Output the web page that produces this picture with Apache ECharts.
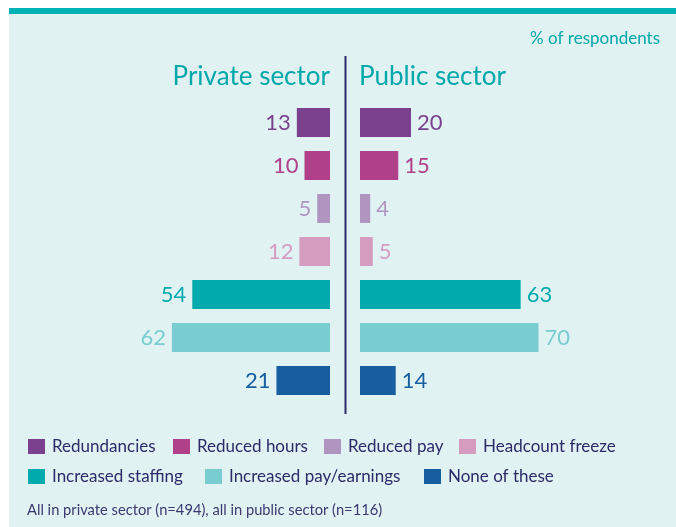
<!DOCTYPE html>
<html>
<head>
<meta charset="utf-8">
<script src="https://cdn.jsdelivr.net/npm/echarts@6/dist/echarts.min.js"></script>
<style>
  html, body { margin: 0; padding: 0; background: #ffffff; }
  #main { width: 676px; height: 527px; }
</style>
</head>
<body>
<div id="main"></div>
<script>
// data
var categories = ['Redundancies', 'Reduced hours', 'Reduced pay', 'Headcount freeze',
  'Increased staffing', 'Increased pay/earnings', 'None of these'];
var privateValues = [13, 10, 5, 12, 54, 62, 21];
var publicValues = [20, 15, 4, 5, 63, 70, 14];
var colors = ['#7b418f', '#b0408a', '#b095c1', '#d59cc0', '#00aaad', '#79cdd0', '#165ea0'];

// legend placement (icon left x, top y)
var legendPos = [[28, 438], [173, 438], [324, 438], [459, 438], [28, 468], [205, 468], [424, 468]];

var font = 'Lato';
var navy = '#2d2a69';

var myChart = echarts.init(document.getElementById('main'));

function oneOnly(values, i) {
  return values.map(function (v, k) { return k === i ? v : '-'; });
}

var series = [];
categories.forEach(function (name, i) {
  series.push({
    name: name,
    type: 'bar',
    xAxisIndex: 0,
    yAxisIndex: 0,
    stack: 'left',
    barWidth: 29,
    data: oneOnly(privateValues, i),
    itemStyle: { color: colors[i] },
    label: {
      show: true,
      position: 'left',
      distance: 6,
      color: colors[i],
      fontFamily: font,
      fontSize: 22
    }
  });
  series.push({
    name: name,
    type: 'bar',
    xAxisIndex: 1,
    yAxisIndex: 1,
    stack: 'right',
    barWidth: 29,
    data: oneOnly(publicValues, i),
    itemStyle: { color: colors[i] },
    label: {
      show: true,
      position: 'right',
      distance: 6,
      color: colors[i],
      fontFamily: font,
      fontSize: 22
    }
  });
});

var legends = categories.map(function (name, i) {
  return {
    data: [name],
    left: legendPos[i][0],
    top: legendPos[i][1],
    padding: 0,
    icon: 'rect',
    itemWidth: 17,
    itemHeight: 15,
    selectedMode: false,
    textStyle: { color: navy, fontFamily: font, fontSize: 17, padding: [0, 0, 0, 2] }
  };
});

var hiddenAxis = {
  axisLine: { show: false },
  axisTick: { show: false },
  axisLabel: { show: false },
  splitLine: { show: false }
};

var option = {
  animation: false,
  textStyle: { fontFamily: font },
  grid: [
    { left: 75, width: 255, top: 101, height: 301 },
    { left: 360, width: 255, top: 101, height: 301 }
  ],
  xAxis: [
    Object.assign({ type: 'value', gridIndex: 0, min: 0, max: 100, inverse: true }, hiddenAxis),
    Object.assign({ type: 'value', gridIndex: 1, min: 0, max: 100 }, hiddenAxis)
  ],
  yAxis: [
    Object.assign({ type: 'category', gridIndex: 0, data: categories, inverse: true }, hiddenAxis),
    Object.assign({ type: 'category', gridIndex: 1, data: categories, inverse: true }, hiddenAxis)
  ],
  legend: legends,
  graphic: [
    { type: 'rect', z: -10, shape: { x: 9, y: 14, width: 667, height: 513 }, style: { fill: '#e0f2f2' } },
    { type: 'rect', z: -9, shape: { x: 9, y: 8, width: 667, height: 6 }, style: { fill: '#00b2b4' } },
    { type: 'line', shape: { x1: 345.5, y1: 56, x2: 345.5, y2: 414 }, style: { stroke: navy, lineWidth: 2 } },
    { type: 'text', x: 660, y: 39, style: { text: '% of respondents', fill: '#00a8ab', font: '17px Lato', textAlign: 'right', textVerticalAlign: 'middle' } },
    { type: 'text', x: 330, y: 77, style: { text: 'Private sector', fill: '#00a8ab', font: '26px Lato', textAlign: 'right', textVerticalAlign: 'middle' } },
    { type: 'text', x: 359, y: 77, style: { text: 'Public sector', fill: '#00a8ab', font: '26px Lato', textAlign: 'left', textVerticalAlign: 'middle' } },
    { type: 'text', x: 27, y: 510, style: { text: 'All in private sector (n=494), all in public sector (n=116)', fill: '#3b3970', font: '14.7px Lato', textAlign: 'left', textVerticalAlign: 'middle' } }
  ],
  series: series
};
myChart.setOption(option);
</script>
</body>
</html>
